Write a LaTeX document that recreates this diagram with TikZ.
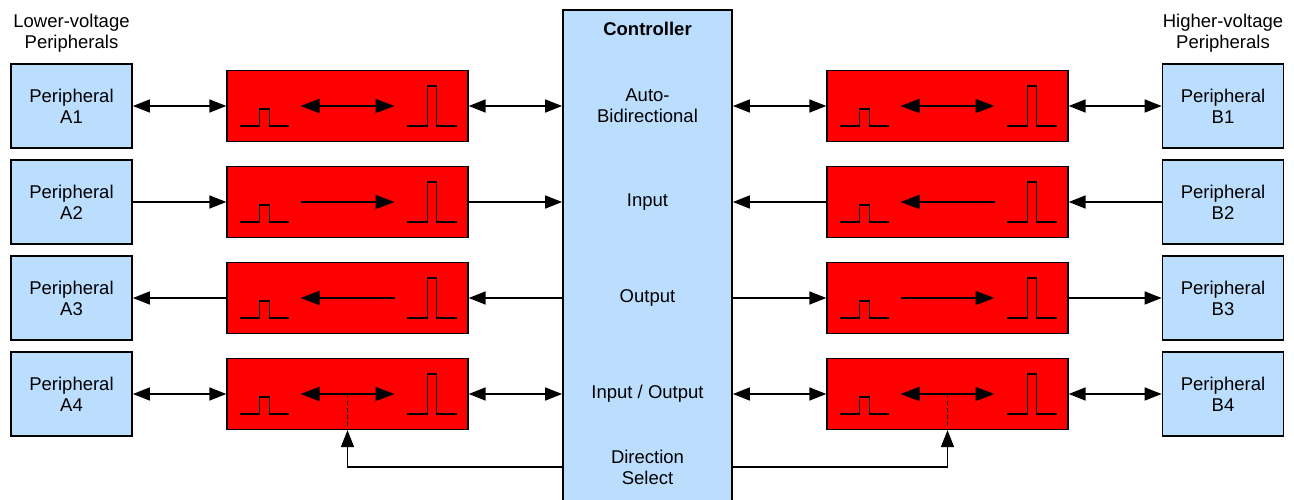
\documentclass[tikz,border=0pt]{standalone}
\usepackage{fontspec}
\setmainfont{Liberation Sans}
\usetikzlibrary{arrows.meta}
\definecolor{pblue}{RGB}{187,222,255}
\definecolor{xred}{RGB}{255,0,0}
\begin{document}
\begin{tikzpicture}[x=1pt,y=-1pt,
  font=\fontsize{18.5}{21}\selectfont,
  >={Triangle[length=17pt,width=13pt]},
  periph/.style={draw, line width=1.8pt, fill=pblue, minimum width=121pt, minimum height=84pt, align=center, inner sep=0pt},
  shifter/.style={draw, line width=1.3pt, fill=xred, minimum width=241pt, minimum height=71pt, inner sep=0pt},
  conn/.style={line width=1.6pt},
  inner/.style={line width=1.6pt, >={Triangle[length=19pt,width=14pt]}},
  lbl/.style={align=center, inner sep=0pt},
  pulses/.pic={
    \draw[line width=1.6pt] (-108,20) -- (-88,20) -- (-88,3) -- (-78,3) -- (-78,20) -- (-59,20);
    \draw[line width=1.6pt] (59,20) -- (80,20) -- (80,-20) -- (89,-20) -- (89,20) -- (109,20);
  }
]
\useasboundingbox (0,0) rectangle (1294,500);

% controller
\node[draw, line width=1.8pt, fill=pblue, minimum width=169pt, minimum height=500pt, inner sep=0pt] (ctrl) at (647.5,260) {};
\node[lbl, font=\fontsize{18.5}{21}\selectfont\bfseries] (ctitle) at (647.5,29) {Controller};
\node[lbl] (c1) at (647.5,106) {Auto-\\Bidirectional};
\node[lbl] (c2) at (647.5,202) {Input};
\node[lbl] (c3) at (647.5,298) {Output};
\node[lbl] (c4) at (647.5,394) {Input / Output};
\node[lbl] (c5) at (647.5,467) {Direction\\Select};

% headers
\node[lbl] (hl) at (71.5,33) {Lower-voltage\\Peripherals};
\node[lbl] (hr) at (1223,33) {Higher-voltage\\Peripherals};

% peripherals and shifters
\foreach \i/\y in {1/106,2/202,3/298,4/394}{
  \node[periph] (A\i) at (71.5,\y) {Peripheral\\A\i};
  \node[periph] (B\i) at (1223,\y) {Peripheral\\B\i};
  \node[shifter] (L\i) at (347.5,\y) {};
  \node[shifter] (R\i) at (947.5,\y) {};
  \pic at (L\i.center) {pulses};
  \pic at (R\i.center) {pulses};
}

% inner arrows
\draw[inner,<->] ([xshift=-47pt]L1.center) -- ([xshift=47pt]L1.center);
\draw[inner,<->] ([xshift=-47pt]R1.center) -- ([xshift=47pt]R1.center);
\draw[inner,->] ([xshift=-47pt]L2.center) -- ([xshift=47pt]L2.center);
\draw[inner,<-] ([xshift=-47pt]R2.center) -- ([xshift=47pt]R2.center);
\draw[inner,<-] ([xshift=-47pt]L3.center) -- ([xshift=47pt]L3.center);
\draw[inner,->] ([xshift=-47pt]R3.center) -- ([xshift=47pt]R3.center);
\draw[inner,<->] ([xshift=-47pt]L4.center) -- ([xshift=47pt]L4.center);
\draw[inner,<->] ([xshift=-47pt]R4.center) -- ([xshift=47pt]R4.center);
\draw[line width=1.6pt, dash pattern=on 4pt off 3pt] (L4.center) -- (L4.south);
\draw[line width=1.6pt, dash pattern=on 4pt off 3pt] (R4.center) -- (R4.south);

% connectors left
\draw[conn,<->] (A1) -- (L1);
\draw[conn,<->] (L1.east) -- (L1.east -| ctrl.west);
\draw[conn,->] (A2) -- (L2);
\draw[conn,->] (L2.east) -- (L2.east -| ctrl.west);
\draw[conn,<-] (A3) -- (L3);
\draw[conn,<-] (L3.east) -- (L3.east -| ctrl.west);
\draw[conn,<->] (A4) -- (L4);
\draw[conn,<->] (L4.east) -- (L4.east -| ctrl.west);

% connectors right
\draw[conn,<->] (R1.west -| ctrl.east) -- (R1.west);
\draw[conn,<->] (R1) -- (B1);
\draw[conn,<-] (R2.west -| ctrl.east) -- (R2.west);
\draw[conn,<-] (R2) -- (B2);
\draw[conn,->] (R3.west -| ctrl.east) -- (R3.west);
\draw[conn,->] (R3) -- (B3);
\draw[conn,<->] (R4.west -| ctrl.east) -- (R4.west);
\draw[conn,<->] (R4) -- (B4);

% direction select
\coordinate (ds) at (647.5,467);
\draw[conn,->] (ds -| ctrl.west) -| (L4.south);
\draw[conn,->] (ds -| ctrl.east) -| (R4.south);
\end{tikzpicture}
\end{document}
